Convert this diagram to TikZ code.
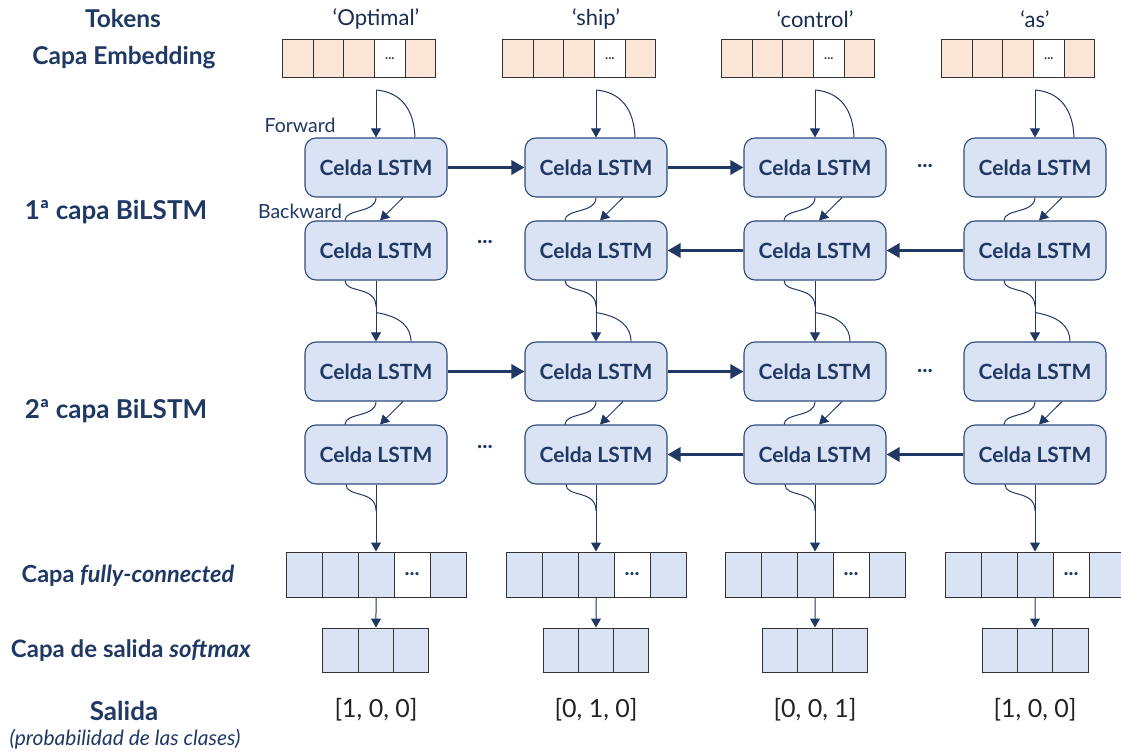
\documentclass[tikz,border=0pt]{standalone}
\usepackage{fontspec}
\setmainfont{Lato}
\usetikzlibrary{calc,arrows.meta}
\definecolor{navy}{HTML}{1F3864}
\definecolor{cellfill}{HTML}{DAE3F3}
\definecolor{cellline}{HTML}{2F4B7C}
\definecolor{peach}{HTML}{FBE5D6}
\definecolor{boxline}{HTML}{333333}
\definecolor{outtext}{HTML}{222222}
\begin{document}
\begin{tikzpicture}[x=1pt,y=-1pt,
  lstm/.style={draw=cellline, fill=cellfill, line width=1.1pt, rounded corners=11pt,
    minimum width=142pt, minimum height=59pt, inner sep=0pt,
    font=\fontsize{21}{24}\selectfont\bfseries, text=navy},
  emb/.style={draw=boxline, line width=1pt, minimum width=30.6pt, minimum height=38pt, inner sep=0pt,
    font=\fontsize{13}{13}\selectfont\bfseries, text=boxline},
  fcbox/.style={draw=boxline, line width=1pt, minimum width=36pt, minimum height=45pt, inner sep=0pt,
    font=\fontsize{21}{21}\selectfont\bfseries, text=navy},
  smbox/.style={draw=boxline, line width=1pt, minimum width=35.33pt, minimum height=44pt, inner sep=0pt},
  lbl/.style={font=\fontsize{24.5}{28}\selectfont\bfseries, text=navy},
  tok/.style={font=\fontsize{22}{24}\selectfont, text=navy!80!black},
  dirlbl/.style={font=\fontsize{19.5}{22}\selectfont, text=navy},
  outlbl/.style={font=\fontsize{25}{28}\selectfont, text=outtext},
  dotsn/.style={font=\fontsize{22}{24}\selectfont\bfseries, text=navy},
  thinln/.style={draw=navy, line width=1pt},
  thinarr/.style={draw=navy, line width=1pt, -{Triangle[length=9pt,width=10pt]}},
  thickarr/.style={draw=navy, line width=3.5pt, -{Triangle[length=13pt,width=14pt]}},
]
\useasboundingbox (0,0) rectangle (1121,751);

% left labels
\node[lbl] (lTok) at (123,19) {Tokens};
\node[lbl] (lEmb) at (124,58) {Capa Embedding};
\node[lbl, font=\fontsize{26}{28}\selectfont\bfseries] (lL1) at (116,212) {1ª capa BiLSTM};
\node[lbl, font=\fontsize{26}{28}\selectfont\bfseries] (lL2) at (116,411) {2ª capa BiLSTM};
\node[lbl, font=\fontsize{23.5}{28}\selectfont\bfseries] (lFC) at (128,576) {Capa \textit{fully-connected}};
\node[lbl, font=\fontsize{24}{28}\selectfont\bfseries] (lSM) at (131,651) {Capa de salida \textit{softmax}};
\node[lbl, font=\fontsize{26}{28}\selectfont\bfseries] (lOut) at (124,711) {Salida};
\node[font=\fontsize{21}{24}\selectfont\itshape, text=navy] (lOut2) at (125,739) {(probabilidad de las clases)};

\node[dirlbl] (fwd) at (300,125) {Forward};
\node[dirlbl] (bwd) at (300,211) {Backward};

\foreach \c/\cx/\tk/\ov in {1/376/{‘Optimal’}/{[1, 0, 0]},2/596/{‘ship’}/{[0, 1, 0]},3/815/{‘control’}/{[0, 0, 1]},4/1035/{‘as’}/{[1, 0, 0]}} {
  \node[tok] (tok\c) at (\cx,19) {\tk};
  % embedding
  \foreach \i/\f/\t in {1/peach/{},2/peach/{},3/peach/{},4/white/{...},5/peach/{}} {
    \node[emb, fill=\f] (e\c-\i) at ({\cx-1.5-91.8+(\i-0.5)*30.6},59) {\t};
  }
  % cells
  \node[lstm] (A\c) at (\cx,167.5) {Celda LSTM};
  \node[lstm] (B\c) at (\cx,250.5) {Celda LSTM};
  \node[lstm] (C\c) at (\cx,371.5) {Celda LSTM};
  \node[lstm] (D\c) at (\cx,454.5) {Celda LSTM};
  % input
  \coordinate (in\c) at (\cx,90);
  \draw[thinarr] (in\c) -- (A\c.north);
  \draw[thinln] (in\c) .. controls ($(in\c)+(25,2)$) and ($(A\c.north)+(38,-28)$) .. ($(A\c.north)+(39,0)$);
  % A -> B
  \draw[thinln] (A\c.south) .. controls ($(A\c.south)+(0,16)$) and ($(B\c.north)+(-31,-12)$) .. ($(B\c.north)+(-31,0)$);
  \draw[thinarr] ($(A\c.south)+(27,0)$) -- ($(B\c.north)+(4,0)$);
  % B -> C
  \draw[thinarr] (B\c.south) -- (C\c.north);
  \draw[thinln] ($(B\c.south)+(-31,0)$) .. controls ($(B\c.south)+(-31,13)$) and ($(B\c.south)+(0,5)$) .. ($(B\c.south)+(0,26)$);
  \draw[thinln] ($(B\c.south)+(0,32)$) .. controls ($(B\c.south)+(25,36)$) and ($(C\c.north)+(35,-14)$) .. ($(C\c.north)+(35,0)$);
  % C -> D
  \draw[thinln] (C\c.south) .. controls ($(C\c.south)+(0,16)$) and ($(D\c.north)+(-31,-12)$) .. ($(D\c.north)+(-31,0)$);
  \draw[thinarr] ($(C\c.south)+(27,0)$) -- ($(D\c.north)+(4,0)$);
  % fully connected
  \foreach \i/\f/\t in {1/cellfill/{},2/cellfill/{},3/cellfill/{},4/white/{...},5/cellfill/{}} {
    \node[fcbox, fill=\f] (fc\c-\i) at ({\cx-108+\i*36},574.5) {\t};
  }
  \foreach \i in {1,2,3} {
    \node[smbox, fill=cellfill] (sm\c-\i) at ({\cx-70.67+\i*35.33},650) {};
  }
  % D -> FC
  \draw[thinarr] (D\c.south) -- (fc\c-3.north);
  \draw[thinln] ($(D\c.south)+(-30,0)$) .. controls ($(D\c.south)+(-30,13)$) and ($(D\c.south)+(0,5)$) .. ($(D\c.south)+(0,26)$);
  \draw[thinarr] (fc\c-3.south) -- (sm\c-2.north);
  % output
  \node[outlbl] (o\c) at (\cx,710) {\ov};
}

% horizontal recurrent arrows
\draw[thickarr] (A1.east) -- (A2.west);
\draw[thickarr] (A2.east) -- (A3.west);
\draw[thickarr] (B4.west) -- (B3.east);
\draw[thickarr] (B3.west) -- (B2.east);
\draw[thickarr] (C1.east) -- (C2.west);
\draw[thickarr] (C2.east) -- (C3.west);
\draw[thickarr] (D4.west) -- (D3.east);
\draw[thickarr] (D3.west) -- (D2.east);
\node[dotsn] (dA) at (925,166) {...};
\node[dotsn] (dB) at (485,242) {...};
\node[dotsn] (dC) at (925,371) {...};
\node[dotsn] (dD) at (485,447) {...};
\end{tikzpicture}
\end{document}
